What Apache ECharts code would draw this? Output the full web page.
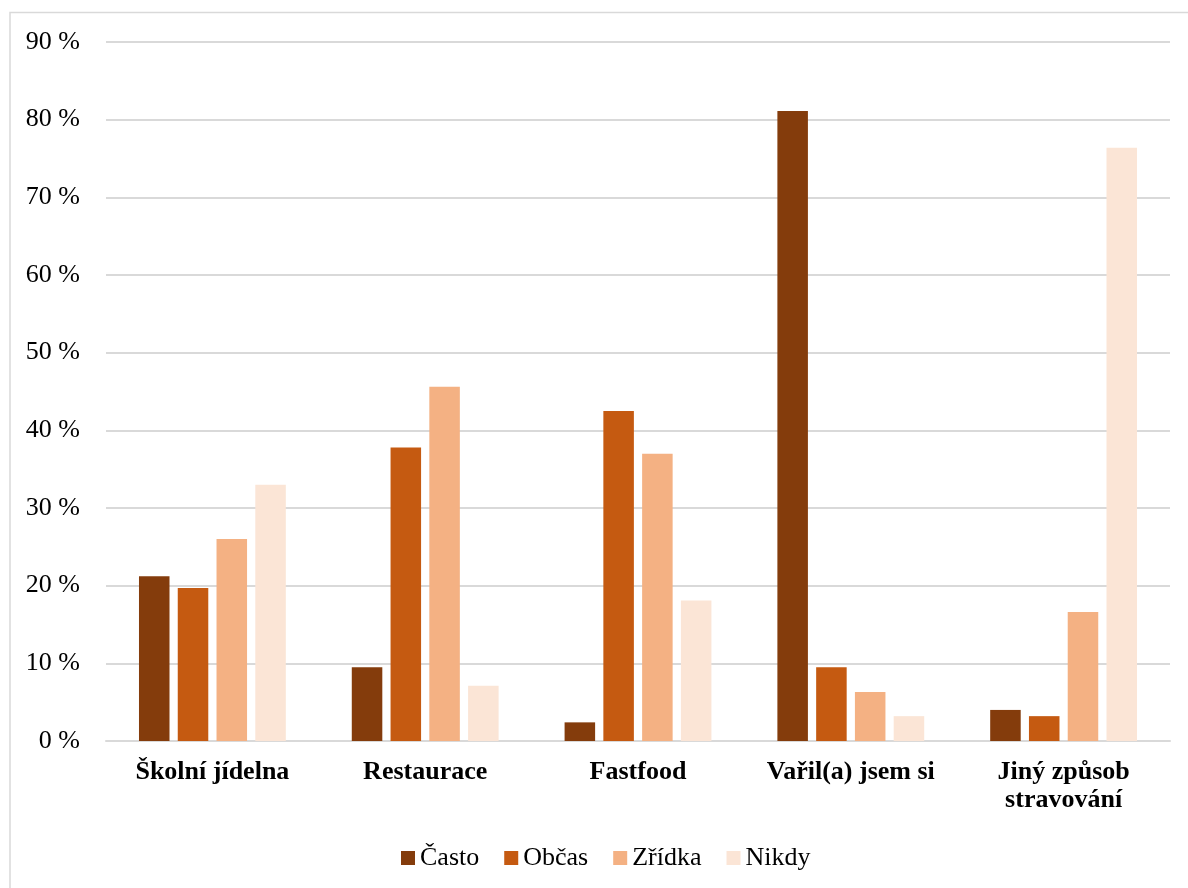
<!DOCTYPE html>
<html>
<head>
<meta charset="utf-8">
<script src="https://cdn.jsdelivr.net/npm/echarts@6/dist/echarts.min.js"></script>
<style>html,body{margin:0;padding:0;background:#fff;}#c{width:1188px;height:888px;}</style>
</head>
<body>
<div id="c"></div>
<script>
const categories = ['Školní jídelna', 'Restaurace', 'Fastfood', 'Vařil(a) jsem si', 'Jiný způsob\nstravování'];
const seriesNames = ['Často', 'Občas', 'Zřídka', 'Nikdy'];
const casto = [21.2, 9.5, 2.4, 81.1, 4.0];
const obcas = [19.7, 37.8, 42.5, 9.5, 3.2];
const zridka = [26.0, 45.6, 37.0, 6.3, 16.6];
const nikdy = [33.0, 7.1, 18.1, 3.2, 76.4];
const colors = ['#843C0C', '#C55A11', '#F4B183', '#FBE5D6'];
const yTicks = [0, 10, 20, 30, 40, 50, 60, 70, 80, 90];

const values = [casto, obcas, zridka, nikdy];
const chart = echarts.init(document.getElementById('c'), null, {renderer: 'canvas'});
const font = '"Liberation Serif", "Times New Roman", serif';
chart.setOption({
  animation: false,
  textStyle: {fontFamily: font},
  graphic: [{
    type: 'rect', z: -10, silent: true,
    shape: {x: 10, y: 12.5, width: 1200, height: 900},
    style: {fill: 'none', stroke: '#d9d9d9', lineWidth: 1.5}
  }],
  grid: {left: 106, right: 18, top: 42, bottom: 147, containLabel: false},
  legend: {
    top: 840, left: 396,
    itemWidth: 14, itemHeight: 14, itemGap: 25,
    icon: 'rect',
    textStyle: {fontFamily: font, fontSize: 26, color: '#000'},
    data: seriesNames
  },
  xAxis: {
    type: 'category', data: categories,
    axisLine: {lineStyle: {color: '#d9d9d9', width: 2}},
    axisTick: {show: false},
    axisLabel: {fontFamily: font, fontSize: 26, fontWeight: 'bold', color: '#000', margin: 17, lineHeight: 28, interval: 0}
  },
  yAxis: {
    type: 'value', min: 0, max: 90, interval: 10,
    axisLine: {show: false}, axisTick: {show: false},
    splitLine: {lineStyle: {color: '#d9d9d9', width: 2}},
    axisLabel: {fontFamily: font, fontSize: 26, color: '#000', margin: 26,
      formatter: v => yTicks.includes(v) ? v + ' %' : ''}
  },
  series: seriesNames.map((n, i) => ({
    name: n, type: 'bar', data: values[i],
    barGap: '27%', barCategoryGap: '31%',
    itemStyle: {color: colors[i]}
  }))
});
</script>
</body>
</html>
